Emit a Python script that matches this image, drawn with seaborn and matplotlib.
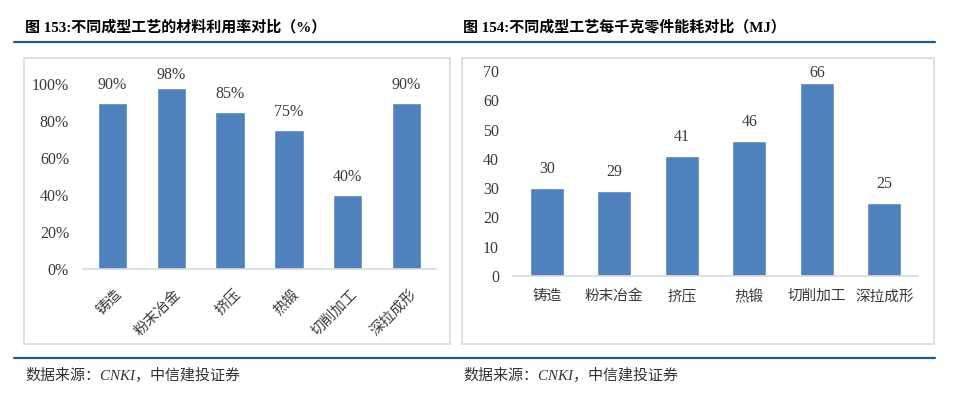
import matplotlib
matplotlib.use("Agg")
import matplotlib.pyplot as plt
import matplotlib.transforms as mtransforms
import seaborn as sns
import pandas as pd
from matplotlib.patches import Rectangle
from matplotlib.lines import Line2D

sns.set_theme(style="white")
plt.rcParams['font.family'] = ['Liberation Serif', 'Noto Sans CJK SC', 'DejaVu Sans']

# ---- data ----
processes = ["铸造", "粉末冶金", "挤压", "热锻", "切削加工", "深拉成形"]
utilization = [0.90, 0.98, 0.85, 0.75, 0.40, 0.90]
energy_mj = [30, 29, 41, 46, 66, 25]
util_ticks = [0, 0.2, 0.4, 0.6, 0.8, 1.0]
util_ticklabels = ["0%", "20%", "40%", "60%", "80%", "100%"]
energy_ticks = [0, 10, 20, 30, 40, 50, 60, 70]
title_left = "图 153:不同成型工艺的材料利用率对比（%）"
title_right = "图 154:不同成型工艺每千克零件能耗对比（MJ）"
source_text = "数据来源：CNKI，中信建投证券"

BAR = "#4F81BD"
TXT = "#3A3A3A"
RULE = "#1F5C8E"
BOX = "#D9D9D9"

W, H = 960, 400
fig = plt.figure(figsize=(W / 100, H / 100), dpi=100)

def fx(px):
    return px / W

def fy(py):
    return 1 - py / H

# rules
fig.add_artist(Line2D([fx(14), fx(935)], [fy(42), fy(42)], color=RULE, lw=1.6))
fig.add_artist(Line2D([fx(14), fx(935)], [fy(358), fy(358)], color=RULE, lw=1.6))

# boxes
fig.add_artist(Rectangle((fx(24), fy(344)), fx(450 - 24), (344 - 58) / H,
                         fill=False, edgecolor=BOX, lw=1.2))
fig.add_artist(Rectangle((fx(462), fy(344)), fx(934 - 462), (344 - 58) / H,
                         fill=False, edgecolor=BOX, lw=1.2))

# titles
fig.text(fx(25), fy(27), title_left, fontsize=10.8, fontweight='bold',
         ha='left', va='center', color='black')
fig.text(fx(463), fy(27), title_right, fontsize=10.8, fontweight='bold',
         ha='left', va='center', color='black')

# sources
fig.text(fx(25), fy(375), source_text, fontsize=10.8, style='italic',
         ha='left', va='center', color='#333333')
fig.text(fx(463), fy(375), source_text, fontsize=10.8, style='italic',
         ha='left', va='center', color='#333333')

def style_axes(ax):
    ax.set_xlabel("")
    ax.set_ylabel("")
    ax.set_xlim(-0.5, len(processes) - 0.5)
    for s in ["top", "right", "left"]:
        ax.spines[s].set_visible(False)
    ax.spines["bottom"].set_color(BOX)
    ax.spines["bottom"].set_linewidth(1.2)
    ax.tick_params(axis='y', length=0, pad=10, labelsize=11.5, labelcolor=TXT)

# ---- left chart ----
df1 = pd.DataFrame({"process": processes, "value": utilization})
ax1 = fig.add_axes([fx(83), fy(269), fx(436 - 83), (269 - 84) / H])
sns.barplot(data=df1, x="process", y="value", color=BAR, width=0.5,
            saturation=1, ax=ax1)
ax1.set_ylim(0, 1.0)
ax1.set_yticks(util_ticks)
ax1.set_yticklabels(util_ticklabels)
style_axes(ax1)
ax1.tick_params(axis='x', length=0, pad=13, labelsize=10.5, labelcolor=TXT)
shift = mtransforms.ScaledTranslation(3 / 100, 0, fig.dpi_scale_trans)
for lbl in ax1.get_xticklabels():
    lbl.set_rotation(45)
    lbl.set_ha('right')
    lbl.set_va('top')
    lbl.set_rotation_mode('anchor')
    lbl.set_transform(lbl.get_transform() + shift)
for i, v in enumerate(utilization):
    ypos = min(v + 0.097, 1.05)
    ax1.text(i, ypos, f"{v*100:.0f}%", ha='center', va='center',
             fontsize=11.5, color=TXT, clip_on=False)

# ---- right chart ----
df2 = pd.DataFrame({"process": processes, "value": energy_mj})
ax2 = fig.add_axes([fx(513), fy(276), fx(918 - 513), (276 - 71) / H])
sns.barplot(data=df2, x="process", y="value", color=BAR, width=0.5,
            saturation=1, ax=ax2)
ax2.set_ylim(0, 70)
ax2.set_yticks(energy_ticks)
style_axes(ax2)
ax2.tick_params(axis='x', length=0, pad=10, labelsize=10.5, labelcolor=TXT)
for i, v in enumerate(energy_mj):
    ypos = min(v + 6.5, 69.3)
    ax2.text(i, ypos, str(v), ha='center', va='center',
             fontsize=11.5, color=TXT, clip_on=False)

fig.savefig("out.png", dpi=100)
